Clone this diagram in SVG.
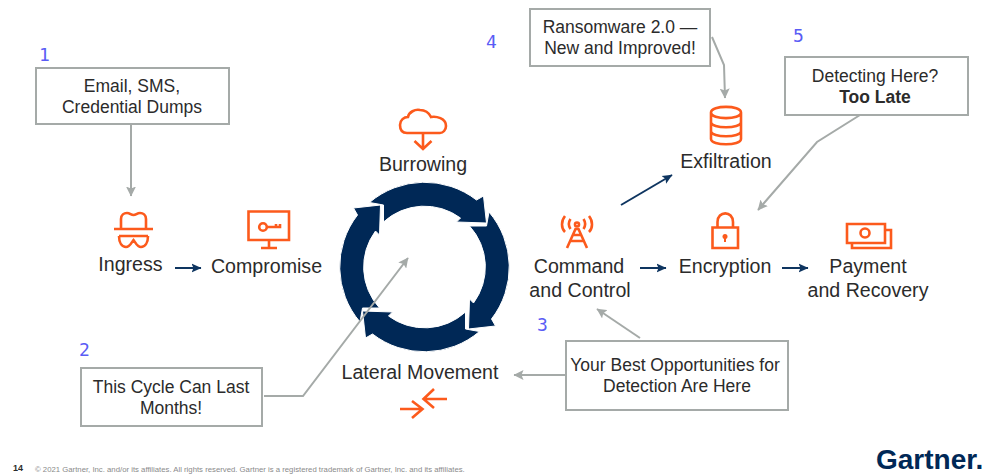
<svg xmlns="http://www.w3.org/2000/svg" width="989" height="475" viewBox="0 0 989 475">
<style>
text{font-family:"Liberation Sans",Arial,sans-serif;font-size:19.6px;fill:#2b2b2b;text-anchor:middle}
.b{font-size:17.5px}
.n{font-family:"DejaVu Sans Mono",monospace;font-size:18px;fill:#5a5cf5;text-anchor:start}
.box{fill:#fff;stroke:#a5aaa8;stroke-width:2}
.g{fill:none;stroke:#a5aaa8;stroke-width:2}
.nv{fill:none;stroke:#0e3560;stroke-width:2}
.ic{fill:none;stroke:#fc5a1c;stroke-width:2.6;stroke-linejoin:miter}
.seg{fill:#002856;stroke:#fff;stroke-width:1}
</style>
<defs>
<marker id="ga" markerUnits="userSpaceOnUse" markerWidth="11" markerHeight="10" refX="9.5" refY="5" orient="auto"><path d="M0 0L10 5L0 10L2 5Z" fill="#a5aaa8"/></marker>
<marker id="na" markerUnits="userSpaceOnUse" markerWidth="11" markerHeight="10" refX="9.5" refY="5" orient="auto"><path d="M0 0.500L10 5L0 9.500L2 5Z" fill="#0e3560"/></marker>
<path id="seg" class="seg" d="M-55 -64.500A84.800 84.800 0 0 1 52 -67L59 -71L62 -44L32 -45L36 -49A60.800 60.800 0 0 0 -41 -45L-41 -62Z"/>
</defs>
<g id="cycle">
<use href="#seg" transform="translate(424.500 267) rotate(90)"/>
<use href="#seg" transform="translate(424.500 267) rotate(180)"/>
<use href="#seg" transform="translate(424.500 267) rotate(270)"/>
<use href="#seg" transform="translate(424.500 267)"/>
</g>
<g id="connectors">
<path class="g" marker-end="url(#ga)" d="M131 124V196"/>
<path class="g" marker-end="url(#ga)" d="M712 37L724 65L725 98"/>
<path class="g" marker-end="url(#ga)" d="M860 115L817 142L758 210"/>
<path class="g" marker-end="url(#ga)" d="M640 338L597 309"/>
<path class="g" marker-end="url(#ga)" d="M566 375L514 375"/>
<path class="g" marker-end="url(#ga)" d="M264 396H303L408 258"/>
<path class="nv" marker-end="url(#na)" d="M175 268H201"/>
<path class="nv" marker-end="url(#na)" d="M640 268H666"/>
<path class="nv" marker-end="url(#na)" d="M782 268H808"/>
<path class="nv" marker-end="url(#na)" d="M621 205L672 175"/>
</g>
<g id="note1"><rect class="box" x="36" y="68" width="193" height="56"/><text class="b" x="132" y="92">Email, SMS,</text><text class="b" x="132" y="113">Credential Dumps</text></g>
<g id="note2"><rect class="box" x="81" y="368" width="181" height="58"/><text class="b" x="171" y="393">This Cycle Can Last</text><text class="b" x="171" y="414">Months!</text></g>
<g id="note3"><rect class="box" x="566" y="341" width="222" height="69"/><text class="b" x="675" y="371">Your Best Opportunities for</text><text class="b" x="677" y="392">Detection Are Here</text></g>
<g id="note4"><rect class="box" x="530" y="9" width="180" height="57"/><text class="b" x="620" y="33">Ransomware 2.0 —</text><text class="b" x="620" y="54">New and Improved!</text></g>
<g id="note5"><rect class="box" x="785" y="57" width="183" height="58"/><text class="b" x="875" y="82">Detecting Here?</text><text class="b" x="875" y="103" font-weight="700">Too Late</text></g>
<g id="num1"><text class="n" x="39" y="61">1</text></g>
<g id="num2"><text class="n" x="79" y="356">2</text></g>
<g id="num3"><text class="n" x="537" y="331">3</text></g>
<g id="num4"><text class="n" x="486" y="48">4</text></g>
<g id="num5"><text class="n" x="793" y="42">5</text></g>
<g id="ingress">
<path class="ic" d="M114 229H153M121 229V219C121 215 124 213 127 213C130 213 131 215 133.500 215C136 215 137 213 140 213C143 213 146 215 146 219V229"/>
<path class="ic" d="M119 236H148M119 236C119 243 122 247 126 247C130 247 131 243 133.500 240C136 243 137 247 141 247C145 247 148 243 148 236"/>
<text x="130.500" y="271">Ingress</text>
</g>
<g id="compromise">
<path class="ic" d="M248.500 211.500H289V240H248.500ZM269 240V248M261 248H277"/>
<circle class="ic" cx="263" cy="227" r="3.800"/>
<path class="ic" d="M267 227H280V224M276 227V224"/>
<text x="266.500" y="273">Compromise</text>
</g>
<g id="burrowing">
<path class="ic" d="M407 133C401 133 400 128 400 125C400 120 404 117 408 117C409 112 415 109 420 110C425 110 429 113 431 117C436 116 446 118 446 126C446 130 443 133 440 133Z"/>
<path class="ic" d="M423 133V148M414.500 141L423 149L431.500 141"/>
<text x="423" y="171">Burrowing</text>
</g>
<g id="lateral">
<text x="420" y="379">Lateral Movement</text>
<path class="ic" d="M400 409H422M412 401L422.500 409L412 418"/>
<path class="ic" d="M447 399H425M434 389L423.500 399L434 408"/>
</g>
<g id="command">
<path class="ic" d="M567 248L575.500 229H578.500L587 248M571 241H583M573 235H581"/>
<circle class="ic" cx="577" cy="224.500" r="2"/>
<path class="ic" d="M570.500 219C568.500 222 568.500 226 570.500 229M583.500 219C585.500 222 585.500 226 583.500 229M565 216C561 221 561 228 565 232M589 216C593 221 593 228 589 232"/>
<text x="579" y="273">Command</text><text x="580" y="297">and Control</text>
</g>
<g id="exfiltration">
<path class="ic" d="M711 112.500C711 105 741 105 741 112.500V139C741 146 711 146 711 139ZM711 112.500C711 120 741 120 741 112.500M711 122C711 129 741 129 741 122M711 131C711 138 741 138 741 131"/>
<text x="726" y="168">Exfiltration</text>
</g>
<g id="encryption">
<path class="ic" d="M712.500 227.500H738V248H712.500ZM717.500 227V222C717.500 210.500 733 210.500 733 222V227"/>
<circle cx="725" cy="236.500" r="2.500" fill="#fc5a1c"/><path d="M725 237V242" stroke="#fc5a1c" stroke-width="2"/>
<text x="725" y="273">Encryption</text>
</g>
<g id="payment">
<path class="ic" d="M847 224H885V243H847ZM885 230H891V248H852V243"/>
<circle class="ic" cx="865" cy="233" r="4.500"/>
<text x="868" y="273">Payment</text><text x="868" y="297">and Recovery</text>
</g>
<g id="footer">
<text x="13" y="471" style="font-size:9px;font-weight:700;text-anchor:start">14</text>
<text x="35" y="472" style="font-size:7.750px;fill:#8a8a8a;text-anchor:start">© 2021 Gartner, Inc. and/or its affiliates. All rights reserved. Gartner is a registered trademark of Gartner, Inc. and its affiliates.</text>
<text x="876" y="469" style="font-size:28px;font-weight:700;fill:#002856;text-anchor:start">Gartner.</text>
</g>
</svg>
